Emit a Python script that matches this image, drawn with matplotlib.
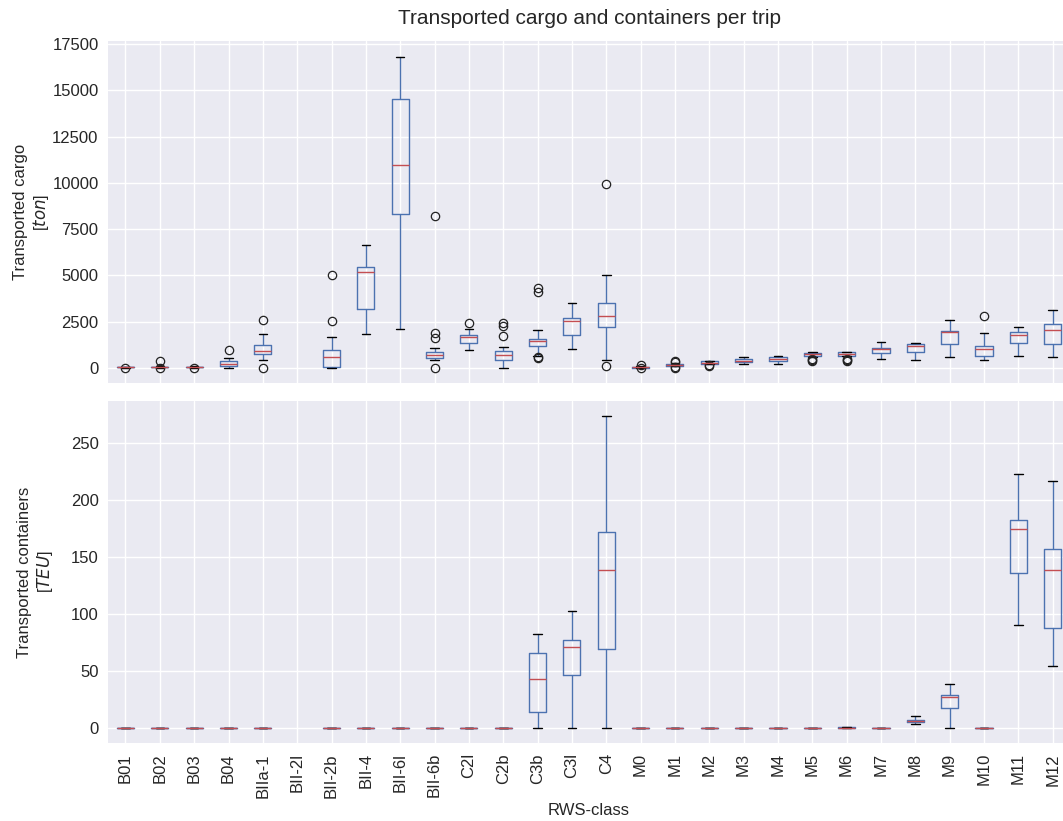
import matplotlib
matplotlib.use("Agg")
import matplotlib.pyplot as plt

plt.style.use("seaborn-v0_8")
plt.rcParams['font.family'] = ['Liberation Sans', 'DejaVu Sans']

# RWS-classes (BII-2l has no trips)
classes = ['B01', 'B02', 'B03', 'B04', 'BIIa-1', 'BII-2l', 'BII-2b', 'BII-4', 'BII-6l', 'BII-6b',
           'C2l', 'C2b', 'C3b', 'C3l', 'C4', 'M0', 'M1', 'M2', 'M3', 'M4', 'M5', 'M6', 'M7',
           'M8', 'M9', 'M10', 'M11', 'M12']

# Transported cargo [ton] - box statistics
cargo_lo = [10, 5, 10, 0, 395, None, 0, 1820, 2108, 432, 973, 0, 649, 1009, 396,
            5, 100, 200, 215, 230, 600, 620, 487, 432, 577, 396, 613, 577]
cargo_q1 = [15, 15, 20, 90, 720, None, 54, 3190, 8307, 522, 1333, 432, 1153, 1766, 2198,
            10, 110, 215, 290, 340, 610, 630, 775, 847, 1279, 631, 1352, 1279]
cargo_med = [25, 30, 35, 230, 900, None, 559, 5190, 10974, 685, 1658, 703, 1424, 2523, 2793,
             30, 160, 280, 370, 480, 720, 750, 1027, 1171, 1928, 1009, 1784, 2018]
cargo_q3 = [40, 50, 50, 340, 1205, None, 973, 5424, 14524, 847, 1766, 901, 1568, 2685, 3496,
            45, 215, 340, 450, 560, 790, 830, 1081, 1261, 2000, 1153, 1928, 2361]
cargo_hi = [60, 80, 70, 520, 1820, None, 1640, 6650, 16830, 1045, 2072, 1099, 2018, 3496, 5028,
            80, 260, 370, 560, 630, 830, 865, 1388, 1333, 2559, 1856, 2198, 3100]
cargo_fliers = [[0], [360, 0], [5], [950], [2610, 0], [], [2523, 5010], [], [],
                [8199, 1874, 1604, 0], [2433], [2415, 2234, 1694], [4289, 4091, 560, 523],
                [], [9947, 72], [150, 0], [380, 330, 40, 10], [110, 130], [], [],
                [480, 400, 350], [480, 420, 380], [], [], [], [2793], [], []]

# Transported containers [TEU]
teu_lo = [0, 0, 0, 0, 0, None, 0, 0, 0, 0, 0, 0, 0, 0, 0,
          0, 0, 0, 0, 0, 0, 0, 0, 3.5, 0, 0, 90.4, 54.4]
teu_q1 = [0, 0, 0, 0, 0, None, 0, 0, 0, 0, 0, 0, 14.0, 46.4, 69.1,
          0, 0, 0, 0, 0, 0, 0, 0, 5.3, 17.5, 0, 136.2, 87.5]
teu_med = [0, 0, 0, 0, 0, None, 0, 0, 0, 0, 0, 0, 43.5, 71.5, 138.3,
           0, 0, 0, 0, 0, 0, 0, 0, 6.4, 27.4, 0, 174.1, 138.3]
teu_q3 = [0, 0, 0, 0, 0, None, 0, 0, 0, 0, 0, 0, 66.2, 77.3, 171.5,
          0, 0, 0, 0, 0, 0, 1.0, 0, 7.3, 29.5, 0, 182.3, 157.2]
teu_hi = [0, 0, 0, 0, 0, None, 0, 0, 0, 0, 0, 0, 82.3, 102.4, 273.3,
          0, 0, 0, 0, 0, 0, 1.2, 0, 10.5, 39.1, 0, 223.1, 216.1]


def make_stats(lo, q1, med, q3, hi, fliers=None):
    stats, pos = [], []
    for i in range(len(classes)):
        if med[i] is None:
            continue
        stats.append(dict(whislo=lo[i], q1=q1[i], med=med[i], q3=q3[i], whishi=hi[i],
                          fliers=fliers[i] if fliers else []))
        pos.append(i + 1)
    return stats, pos


def draw(ax, stats, pos):
    ax.bxp(stats, positions=pos, widths=0.5, manage_ticks=False,
           boxprops=dict(color='#4C72B0', linewidth=1),
           whiskerprops=dict(color='#4C72B0', linewidth=1),
           capprops=dict(color='k', linewidth=1),
           medianprops=dict(color='#C44E52', linewidth=1),
           flierprops=dict(marker='o', markerfacecolor='none', markeredgecolor='#222222',
                           markersize=6, markeredgewidth=0.9))


fig, (ax1, ax2) = plt.subplots(2, 1, sharex=True, figsize=(10.63, 8.21), dpi=100)
fig.subplots_adjust(left=0.1019, right=1.0064, bottom=0.0946, top=0.9504, hspace=0.0508)

s, p = make_stats(cargo_lo, cargo_q1, cargo_med, cargo_q3, cargo_hi, cargo_fliers)
draw(ax1, s, p)
s, p = make_stats(teu_lo, teu_q1, teu_med, teu_q3, teu_hi)
draw(ax2, s, p)

ax1.set_xlim(0.5, len(classes) + 0.5)
ax2.set_xticks(range(1, len(classes) + 1))
ax2.set_xticklabels(classes, rotation=90)
ax1.tick_params(labelbottom=False)

ax1.set_ylim(-842, 17690)
ax1.set_yticks(range(0, 17501, 2500))
ax2.set_ylim(-13.1, 286.8)
ax2.set_yticks(range(0, 251, 50))

for ax in (ax1, ax2):
    ax.tick_params(labelsize=12)

ax1.set_ylabel('Transported cargo\n[$ton$]', fontsize=12)
ax2.set_ylabel('Transported containers\n[$TEU$]', fontsize=12)
ax1.yaxis.set_label_coords(-0.060, 0.5)
ax2.yaxis.set_label_coords(-0.055, 0.5)
ax2.set_xlabel('RWS-class', fontsize=12)
ax1.set_title('Transported cargo and containers per trip', fontsize=15, pad=12)

fig.savefig('out.png', dpi=100)
